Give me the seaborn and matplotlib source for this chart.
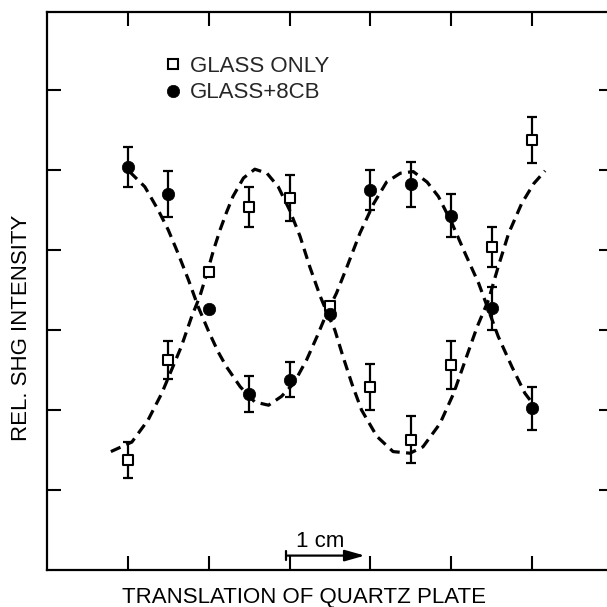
import numpy as np
import matplotlib
matplotlib.use("Agg")
import matplotlib.pyplot as plt
import seaborn as sns
from matplotlib.lines import Line2D

# ---- data ----
positions = [1.0, 1.5, 2.0, 2.5, 3.0, 3.5, 4.0, 4.5, 5.0, 5.5, 6.0]
glass_only = [1.375, 2.625, 3.72, 4.54, 4.65, 3.30, 2.29, 1.63, 2.56, 4.04, 5.375]
glass_only_err = [0.22, 0.24, 0.0, 0.25, 0.29, 0.0, 0.29, 0.29, 0.30, 0.25, 0.29]
glass_8cb = [5.04, 4.70, 3.26, 2.20, 2.38, 3.20, 4.75, 4.82, 4.43, 3.27, 2.02]
glass_8cb_err = [0.25, 0.29, 0.0, 0.22, 0.22, 0.0, 0.25, 0.28, 0.27, 0.27, 0.27]

fit_only_x = [0.79, 1.05, 1.25, 1.42, 1.54, 1.66, 1.79, 1.89, 1.99, 2.06, 2.14, 2.22,
              2.30, 2.43, 2.57, 2.72, 2.86, 3.00, 3.13, 3.25, 3.38, 3.47, 3.56, 3.66,
              3.77, 3.89, 4.08, 4.28, 4.49, 4.65, 4.86, 5.03, 5.19, 5.32, 5.46, 5.58,
              5.71, 5.87, 6.02, 6.16]
fit_only_y = [1.48, 1.60, 1.875, 2.21, 2.50, 2.79, 3.17, 3.42, 3.75, 4.00, 4.25, 4.47,
              4.67, 4.90, 5.01, 4.96, 4.79, 4.50, 4.17, 3.79, 3.42, 3.20, 3.00, 2.67,
              2.33, 2.00, 1.67, 1.48, 1.46, 1.54, 1.83, 2.21, 2.67, 3.04, 3.375, 3.79,
              4.21, 4.58, 4.83, 4.99]
fit_8cb_x = [1.02, 1.21, 1.375, 1.50, 1.62, 1.75, 1.87, 2.00, 2.12, 2.22, 2.39, 2.57,
             2.74, 2.90, 3.05, 3.21, 3.34, 3.46, 3.58, 3.71, 3.87, 4.04, 4.20, 4.37,
             4.53, 4.70, 4.84, 5.01, 5.17, 5.34, 5.46, 5.58, 5.75, 5.91, 6.00]
fit_8cb_y = [4.98, 4.79, 4.50, 4.25, 3.96, 3.625, 3.29, 2.98, 2.72, 2.54, 2.29, 2.10,
             2.06, 2.17, 2.33, 2.625, 2.92, 3.21, 3.46, 3.79, 4.21, 4.58, 4.85, 4.96,
             4.98, 4.85, 4.67, 4.33, 3.96, 3.58, 3.25, 2.92, 2.54, 2.21, 2.09]

series_labels = ["GLASS ONLY", "GLASS+8CB"]
x_label = "TRANSLATION OF QUARTZ PLATE"
y_label = "REL. SHG INTENSITY"
scale_label = "1 cm"
tick_positions = [1, 2, 3, 4, 5, 6]
scale_start, scale_end, scale_level = 2.96, 3.93, 0.18

# ---- style ----
sns.set_theme(style="ticks")
plt.rcParams['font.family'] = ['Liberation Sans', 'DejaVu Sans']
FS = 16

fig = plt.figure(figsize=(6.07, 6.07), dpi=100)
ax = fig.add_axes([47 / 607, 37 / 607, 566 / 607, 558 / 607])
ax.set_xlim(0, 7)
ax.set_ylim(0, 6.975)

dash = (0, (3.3, 2.0))
sns.lineplot(x=fit_only_x, y=fit_only_y, sort=False, estimator=None, ax=ax,
             color='black', lw=2.3, linestyle=dash, zorder=2)
sns.lineplot(x=fit_8cb_x, y=fit_8cb_y, sort=False, estimator=None, ax=ax,
             color='black', lw=2.3, linestyle=dash, zorder=2)

for ys, es in ((glass_only, glass_only_err), (glass_8cb, glass_8cb_err)):
    xs = np.array(positions)
    ys = np.array(ys)
    es = np.array(es)
    m = es > 0
    ax.errorbar(xs[m], ys[m], yerr=es[m], fmt='none', ecolor='black',
                elinewidth=1.6, capsize=3.6, capthick=1.6, zorder=3)

sns.scatterplot(x=positions, y=glass_only, marker='s', s=49, color='white',
                edgecolor='black', linewidth=1.5, ax=ax, zorder=4)
sns.scatterplot(x=positions, y=glass_8cb, marker='o', s=80, color='black',
                edgecolor='black', linewidth=0.5, ax=ax, zorder=4)

# legend
handles = [
    Line2D([], [], marker='s', ls='none', mfc='white', mec='black', ms=7, mew=1.5),
    Line2D([], [], marker='o', ls='none', mfc='black', mec='black', ms=8.9, mew=0.5),
]
ax.legend(handles, series_labels, loc='upper left', bbox_to_anchor=(0.2074, 0.922),
          frameon=False, fontsize=FS, handlelength=0.8, handletextpad=0.35,
          borderpad=0, borderaxespad=0, labelspacing=0.26)

# ticks & spines
ax.set_xticks(tick_positions)
ax.set_yticks(tick_positions)
ax.tick_params(direction='in', length=10, width=1.5, top=True, right=True,
               labelbottom=False, labelleft=False, color='black')
for sp in ax.spines.values():
    sp.set_linewidth(1.6)
    sp.set_color('black')

# labels
ax.set_xlabel(x_label, fontsize=FS, color='black', va='baseline', ha='center')
ax.xaxis.set_label_coords((303.5 - 47) / 566, (570 - 603) / 558)
ax.set_ylabel(y_label, fontsize=FS, color='black', va='center', ha='center')
ax.yaxis.set_label_coords((22 - 47) / 566, (570 - 328) / 558)

# scale bar annotation
ax.annotate('', xy=(scale_end, scale_level), xytext=(scale_start, scale_level),
            arrowprops=dict(arrowstyle='-|>,head_length=0.6,head_width=0.17',
                            color='black', lw=1.6, shrinkA=0, shrinkB=0,
                            mutation_scale=20))
ax.plot([scale_start, scale_start], [scale_level - 0.06, scale_level + 0.06],
        color='black', lw=1.6)
ax.text(3.08, 0.29, scale_label, fontsize=FS, ha='left', va='baseline', color='black')

fig.savefig('out.png', dpi=100, facecolor='white')
